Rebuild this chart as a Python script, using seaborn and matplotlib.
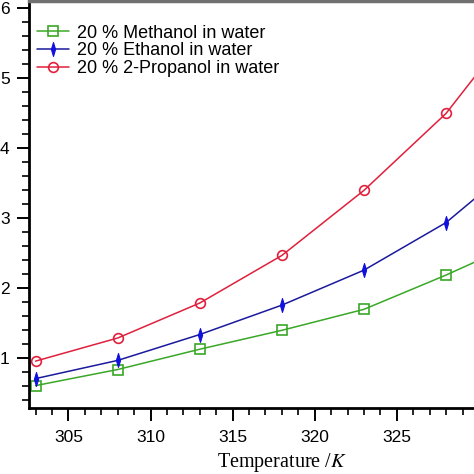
"""Viscosity-like curves of 20 % alcohol/water mixtures versus temperature."""

import matplotlib
import pandas as pd
import seaborn as sns

matplotlib.use("Agg")
import matplotlib.pyplot as plt
from matplotlib.ticker import MultipleLocator

# Data
temperature = [303, 308, 313, 318, 323, 328, 333]
methanol = [0.61, 0.84, 1.13, 1.40, 1.70, 2.19, 2.72]
ethanol = [0.71, 0.97, 1.34, 1.76, 2.26, 2.94, 3.92]
propanol = [0.96, 1.29, 1.79, 2.47, 3.40, 4.50, 6.00]

series_labels = [
    "20 % Methanol in water",
    "20 % Ethanol in water",
    "20 % 2-Propanol in water",
]

# narrow diamond like the original
THIN_DIAMOND = [(0, 1), (0.3, 0), (0, -1), (-0.3, 0), (0, 1)]


def main() -> None:
    sns.set_theme(style="ticks")
    plt.rcParams["font.family"] = ["Liberation Sans", "DejaVu Sans"]
    plt.rcParams.update(
        {
            "mathtext.fontset": "stix",
            "text.color": "black",
            "axes.labelcolor": "black",
            "xtick.color": "black",
            "ytick.color": "black",
        }
    )

    df = pd.DataFrame(
        {
            "T": temperature * 3,
            "value": methanol + ethanol + propanol,
            "series": [series_labels[0]] * 7 + [series_labels[1]] * 7 + [series_labels[2]] * 7,
        }
    )

    styles = {
        series_labels[0]: dict(color="#3aa827", marker="s", mfc="none", mec="#3aa827", ms=6.5, mew=1.2),
        series_labels[1]: dict(color="#1a1a9c", marker=THIN_DIAMOND, mfc="#1010e0", mec="#1010e0", ms=10, mew=0.8),
        series_labels[2]: dict(color="#e0203c", marker="o", mfc="none", mec="#e0203c", ms=7, mew=1.2),
    }

    fig = plt.figure(figsize=(4.74, 4.74), dpi=100)
    ax = fig.add_axes([29 / 474, 66 / 474, 1 - 29 / 474, 1 - 66 / 474 - 0.003])

    for label in series_labels:
        st = styles[label]
        sub = df[df["series"] == label]
        sns.lineplot(
            data=sub, x="T", y="value", ax=ax, label=label,
            color=st["color"], linewidth=1.1, marker=st["marker"],
            markersize=st["ms"], markerfacecolor=st["mfc"],
            markeredgecolor=st["mec"], markeredgewidth=st["mew"],
        )

    ax.set_xlim(302.6, 329.7)
    ax.set_ylim(0.29, 6.1)
    ax.xaxis.set_major_locator(MultipleLocator(5))
    ax.xaxis.set_minor_locator(MultipleLocator(1))
    ax.yaxis.set_major_locator(MultipleLocator(1))
    ax.yaxis.set_minor_locator(MultipleLocator(0.2))
    ax.tick_params(which="major", length=9, width=1.4, labelsize=12.5, color="black",
                   labelcolor="black", pad=5)
    ax.tick_params(which="minor", length=5, width=1.2, color="black")
    ax.tick_params(axis="x", which="major", pad=7)

    ax.set_xlabel("Temperature /$K$", fontsize=14.5, family="Liberation Serif")
    ax.xaxis.set_label_coords((282 - 29) / 445, -(451 - 408) / 407)
    ax.set_ylabel("")

    for side in ["left", "bottom"]:
        ax.spines[side].set_linewidth(2)
        ax.spines[side].set_color("black")
    ax.spines["top"].set_visible(True)
    ax.spines["top"].set_color("#707070")
    ax.spines["top"].set_linewidth(2.5)
    ax.spines["right"].set_visible(False)

    ax.legend(
        loc="upper left", bbox_to_anchor=(0.018, 0.943), frameon=False,
        fontsize=13, handlelength=1.77, handletextpad=0.44, labelspacing=0.05,
        borderaxespad=0, borderpad=0,
    )

    fig.savefig("out.png", dpi=100)
    plt.close(fig)


if __name__ == "__main__":
    main()
